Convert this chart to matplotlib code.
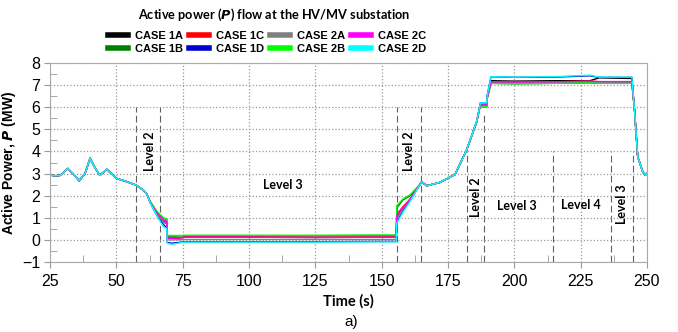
import matplotlib
matplotlib.use("Agg")
import matplotlib.pyplot as plt
from matplotlib.ticker import MultipleLocator

# time axis (s), shared by all cases
t = [25, 27, 29, 31.7, 34, 36, 38.2, 40.1, 42, 43.8,
     46.4, 48.3, 50.1, 54, 57.4, 60.2, 61.5, 62.7, 65.2, 67.7,
     69.0, 69.2, 71, 74.6, 75.5, 100, 125, 150, 155.5, 155.7,
     158, 160.8, 165.1, 167, 172, 176.4, 177.6, 182, 185.8, 187.0,
     187.2, 189.6, 189.8, 191.2, 200, 215, 228.5, 232, 244.3, 245.3,
     246.5, 248.4, 249.3, 250]

# active power (MW) per case
p_1a = [2.93, 2.9, 2.92, 3.23, 2.95, 2.67, 3.0, 3.69, 3.25, 2.92,
        3.19, 2.98, 2.78, 2.63, 2.48, 2.25, 2.07, 1.72, 1.2, 0.8,
        0.75, 0.08, 0.08, 0.1, 0.12, 0.12, 0.11, 0.12, 0.12, 1.0,
        1.4, 1.85, 2.63, 2.45, 2.6, 2.88, 2.95, 4.06, 5.34, 6.0,
        6.1, 6.1, 6.45, 7.2, 7.18, 7.2, 7.2, 7.33, 7.3, 5.87,
        3.76, 3.08, 2.93, 3.0]
p_1b = [2.93, 2.9, 2.92, 3.23, 2.95, 2.67, 3.0, 3.69, 3.25, 2.92,
        3.19, 2.98, 2.78, 2.63, 2.48, 2.25, 2.07, 1.75, 1.28, 0.98,
        0.92, 0.17, 0.17, 0.18, 0.19, 0.19, 0.19, 0.2, 0.2, 1.45,
        1.8, 2.0, 2.6, 2.45, 2.6, 2.88, 2.95, 4.06, 5.32, 6.0,
        6.0, 6.0, 6.4, 7.08, 7.06, 7.08, 7.1, 7.08, 7.08, 5.87,
        3.76, 3.08, 2.93, 3.0]
p_1c = [2.93, 2.9, 2.92, 3.23, 2.95, 2.67, 3.0, 3.69, 3.25, 2.92,
        3.19, 2.98, 2.78, 2.63, 2.48, 2.25, 2.07, 1.72, 1.22, 0.85,
        0.8, 0.07, 0.07, 0.1, 0.13, 0.13, 0.12, 0.13, 0.13, 1.15,
        1.5, 1.85, 2.63, 2.45, 2.6, 2.88, 2.95, 4.06, 5.34, 6.0,
        6.1, 6.1, 6.45, 7.15, 7.13, 7.15, 7.18, 7.15, 7.15, 5.87,
        3.76, 3.08, 2.93, 3.0]
p_1d = [2.93, 2.9, 2.92, 3.23, 2.95, 2.67, 3.0, 3.69, 3.25, 2.92,
        3.19, 2.98, 2.78, 2.63, 2.48, 2.25, 2.07, 1.7, 1.12, 0.7,
        0.55, -0.12, -0.15, -0.1, -0.08, -0.08, -0.08, -0.07, -0.07, 0.8,
        1.3, 1.8, 2.63, 2.45, 2.6, 2.88, 2.95, 4.06, 5.36, 6.05,
        6.2, 6.2, 6.55, 7.38, 7.35, 7.36, 7.42, 7.35, 7.35, 5.87,
        3.76, 3.08, 2.93, 3.0]
p_2a = [2.93, 2.9, 2.92, 3.23, 2.95, 2.67, 3.0, 3.69, 3.25, 2.92,
        3.19, 2.98, 2.78, 2.63, 2.48, 2.25, 2.07, 1.72, 1.18, 0.8,
        0.75, 0.0, 0.0, 0.01, 0.02, 0.02, 0.02, 0.02, 0.02, 0.95,
        1.4, 1.85, 2.63, 2.45, 2.6, 2.88, 2.95, 4.06, 5.34, 6.0,
        6.1, 6.1, 6.45, 7.12, 7.1, 7.12, 7.14, 7.12, 7.12, 5.87,
        3.76, 3.08, 2.93, 3.0]
p_2b = [2.93, 2.9, 2.92, 3.23, 2.95, 2.67, 3.0, 3.69, 3.25, 2.92,
        3.19, 2.98, 2.78, 2.63, 2.48, 2.25, 2.07, 1.76, 1.3, 1.0,
        0.95, 0.2, 0.2, 0.2, 0.21, 0.21, 0.21, 0.22, 0.22, 1.55,
        1.85, 2.05, 2.6, 2.45, 2.6, 2.88, 2.95, 4.06, 5.32, 6.0,
        6.0, 6.0, 6.4, 7.08, 7.06, 7.08, 7.1, 7.08, 7.08, 5.87,
        3.76, 3.08, 2.93, 3.0]
p_2c = [2.93, 2.9, 2.92, 3.23, 2.95, 2.67, 3.0, 3.69, 3.25, 2.92,
        3.19, 2.98, 2.78, 2.63, 2.48, 2.25, 2.07, 1.72, 1.22, 0.9,
        0.85, 0.07, 0.07, 0.1, 0.12, 0.12, 0.11, 0.12, 0.12, 1.1,
        1.45, 1.85, 2.63, 2.45, 2.6, 2.88, 2.95, 4.06, 5.34, 6.0,
        6.1, 6.1, 6.45, 7.15, 7.14, 7.15, 7.18, 7.16, 7.16, 5.87,
        3.76, 3.08, 2.93, 3.0]
p_2d = [2.93, 2.9, 2.92, 3.23, 2.95, 2.67, 3.0, 3.69, 3.25, 2.92,
        3.19, 2.98, 2.78, 2.63, 2.48, 2.25, 2.07, 1.7, 1.1, 0.6,
        0.5, -0.15, -0.2, -0.12, -0.1, -0.1, -0.1, -0.09, -0.09, 0.75,
        1.25, 1.75, 2.63, 2.45, 2.6, 2.88, 2.95, 4.06, 5.36, 6.05,
        6.2, 6.2, 6.55, 7.38, 7.36, 7.38, 7.45, 7.36, 7.36, 5.87,
        3.76, 3.08, 2.93, 3.0]

cases = ["CASE 1A", "CASE 1B", "CASE 1C", "CASE 1D",
         "CASE 2A", "CASE 2B", "CASE 2C", "CASE 2D"]
series = [p_1a, p_1b, p_1c, p_1d, p_2a, p_2b, p_2c, p_2d]
colors = ["#000000", "#008000", "#ff0000", "#0000cc",
          "#808080", "#00ff00", "#ff00ff", "#00ffff"]

# control level boundaries: (time, top of dashed line)
level_lines = [(57.4, 6), (66.5, 6), (155.8, 6), (164.8, 6), (182.2, 4),
               (188.6, 5.8), (214.6, 4), (236.4, 4), (244.6, 4)]
# level labels: (text, x, y, rotation)
level_labels = [("Level 2", 62.7, 4.0, 90), ("Level 3", 112.8, 2.48, 0),
                ("Level 2", 160.4, 4.0, 90), ("Level 2", 185.6, 1.95, 90),
                ("Level 3", 200.9, 1.54, 0), ("Level 4", 225.0, 1.57, 0),
                ("Level 3", 240.5, 1.62, 90)]

plt.rcParams['font.family'] = ['Liberation Sans', 'DejaVu Sans']

fig = plt.figure(figsize=(6.78, 3.32), dpi=100)
ax = fig.add_axes([50 / 678, 1 - 262 / 332, 597 / 678, 199 / 332])

for name, vals, c in zip(cases, series, colors):
    ax.plot(t, vals, color=c, lw=1.0, label=name)

for x, top in level_lines:
    ax.plot([x, x], [-1, top], color="#606060", lw=0.8, ls=(0, (6, 3)), zorder=0.5)

for txt, x, y, rot in level_labels:
    ax.text(x, y, txt, rotation=rot, ha="center", va="center",
            fontsize=9, fontweight="bold", family="Lato")

ax.set_xlim(25, 250)
ax.set_ylim(-1, 8)
ax.xaxis.set_major_locator(MultipleLocator(25))
ax.xaxis.set_minor_locator(MultipleLocator(12.5))
ax.yaxis.set_major_locator(MultipleLocator(1))
ax.yaxis.set_minor_locator(MultipleLocator(0.5))
ax.tick_params(which="major", direction="out", length=4, color="#999999",
               labelsize=11.5, pad=5)
ax.tick_params(axis="y", which="major", pad=3)
ax.tick_params(which="minor", direction="in", length=5, color="#999999")
ax.grid(True, which="major", ls=":", color="#999999", lw=0.9)
for sp in ax.spines.values():
    sp.set_color("#aaaaaa")

ax.set_xlabel("Time (s)", fontsize=10.5, fontweight="bold", family="Lato", labelpad=3)
ax.set_ylabel("Active Power, $\\mathbfit{P}$ (MW)", fontsize=10, fontweight="bold")
ax.yaxis.set_label_coords(-0.054, 0.5)
fig.text(0.518, 0.03, "a)", ha="center", va="center", fontsize=11)

fig.text(0.404, 0.955, "Active power ($\\mathbfit{P}$) flow at the HV/MV substation",
         ha="center", va="center", fontsize=9.2, fontweight="bold", family="Lato")

leg = fig.legend(ncol=4, loc="center", bbox_to_anchor=(0.394, 0.872),
                 frameon=False, prop={"weight": "bold", "size": 8},
                 handlelength=1.8, handletextpad=0.6, columnspacing=0.55,
                 labelspacing=0.25, borderpad=0.2)
for h in leg.legend_handles:
    h.set_linewidth(4)

fig.savefig("out.png", dpi=100)
